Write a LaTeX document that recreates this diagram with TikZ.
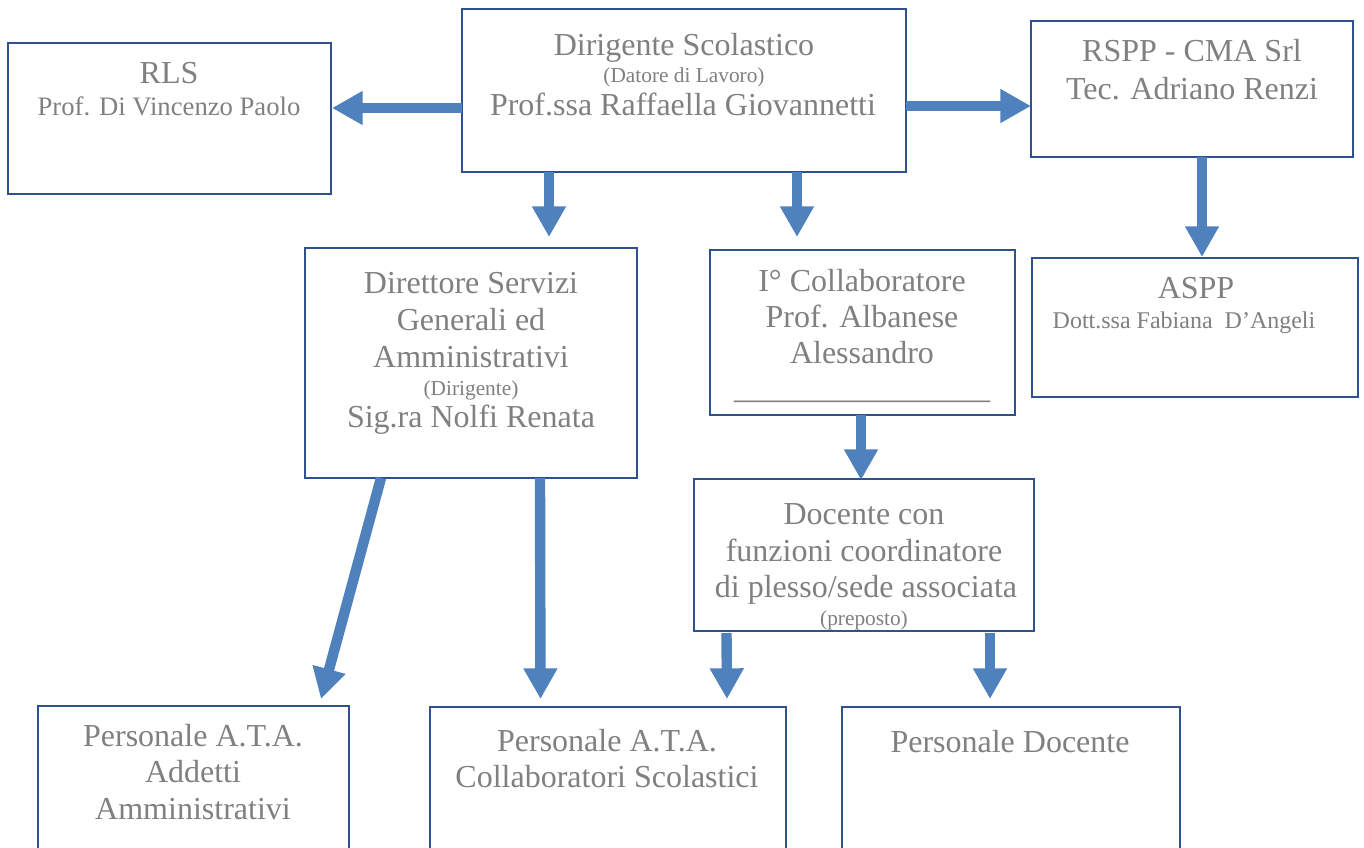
\documentclass[tikz,border=0pt]{standalone}
\usepackage{fontspec}
\setmainfont{Liberation Serif}
\usetikzlibrary{arrows.meta,calc,fit}
\definecolor{boxc}{RGB}{47,82,143}
\definecolor{arrc}{RGB}{79,129,189}
\definecolor{txtc}{RGB}{128,128,128}
\tikzset{
  box/.style={draw=boxc, line width=1.4pt, inner sep=0pt, outer sep=0pt},
  arr/.style={draw=arrc, line width=7.8pt, -{Triangle[length=23pt,width=24pt]}},
  big/.style={text=txtc, font=\fontsize{24}{28}\selectfont, anchor=base, inner sep=0pt},
  mid/.style={text=txtc, font=\fontsize{20}{24}\selectfont, anchor=base, inner sep=0pt},
  mids/.style={text=txtc, font=\fontsize{18}{22}\selectfont, anchor=base, inner sep=0pt},
  sml/.style={text=txtc, font=\fontsize{16}{19}\selectfont, anchor=base, inner sep=0pt}
}
\begin{document}
\begin{tikzpicture}[x=0.75pt,y=-0.75pt]
\useasboundingbox (0,0) rectangle (1364,847);
\clip (0,0) rectangle (1364,847);
\fill[white] (0,0) rectangle (1364,847);

% boxes
\node[box, fit={(8,43)(331,194)}] (rls) {};
\node[box, fit={(462,9)(906,172)}] (dir) {};
\node[box, fit={(1031,21)(1353,157)}] (rspp) {};
\node[box, fit={(1032,258)(1358,397)}] (aspp) {};
\node[box, fit={(305,248)(637,478)}] (dsga) {};
\node[box, fit={(710,250)(1015,415)}] (coll) {};
\node[box, fit={(694,479)(1034,631)}] (doc) {};
\node[box, fit={(38,706)(349,880)}] (ata1) {};
\node[box, fit={(430,707)(786,880)}] (ata2) {};
\node[box, fit={(842,707)(1180,880)}] (pdoc) {};

% texts
\node[big] (t-rls1) at (169,83) {RLS};
\node[mid] (t-rls2) at (169,115) {Prof. Di Vincenzo Paolo};

\node[big] (t-dir1) at (684,55) {Dirigente Scolastico};
\node[sml] (t-dir2) at (684,82) {(Datore di Lavoro)};
\node[big] (t-dir3) at (683,115) {Prof.ssa Raffaella Giovannetti};

\node[big] (t-rspp1) at (1192,61) {RSPP - CMA Srl};
\node[big] (t-rspp2) at (1192,99) {Tec. Adriano Renzi};

\node[big] (t-aspp1) at (1196,298) {ASPP};
\node[mids] (t-aspp2) at (1184,328) {Dott.ssa Fabiana\ \ D’Angeli};

\node[big] (t-dsga1) at (471,293) {Direttore Servizi};
\node[big] (t-dsga2) at (471,330) {Generali ed};
\node[big] (t-dsga3) at (471,367) {Amministrativi};
\node[sml] (t-dsga4) at (471,395) {(Dirigente)};
\node[big] (t-dsga5) at (471,427) {Sig.ra Nolfi Renata};

\node[big] (t-coll1) at (862,291) {I° Collaboratore};
\node[big] (t-coll2) at (862,327) {Prof. Albanese};
\node[big] (t-coll3) at (862,363) {Alessandro};
\node[big] (t-coll4) at (862,398) {\_\_\_\_\_\_\_\_\_\_\_\_\_\_\_\_};

\node[big] (t-doc1) at (864,524) {Docente con};
\node[big] (t-doc2) at (864,561) {funzioni coordinatore};
\node[big] (t-doc3) at (866,597) {di plesso/sede associata};
\node[sml] (t-doc4) at (864,625) {(preposto)};

\node[big] (t-ata1a) at (193,746) {Personale A.T.A.};
\node[big] (t-ata1b) at (193,782) {Addetti};
\node[big] (t-ata1c) at (193,819) {Amministrativi};

\node[big] (t-ata2a) at (607,751) {Personale A.T.A.};
\node[big] (t-ata2b) at (607,787) {Collaboratori Scolastici};

\node[big] (t-pdoc) at (1010,752) {Personale Docente};

% arrows
\draw[arr] ($(dir.west)+(0,17.5)$) -- ($(rls.east)+(1,-10.5)$);
\draw[arr] ($(dir.east)+(0,15.5)$) -- ($(rspp.west)+(0,17)$);
\draw[arr] ($(dir.south)+(-135,0)$) -- ($(dsga.north)+(78,-11)$);
\draw[arr] ($(dir.south)+(113,0)$) -- ($(coll.north)+(-65.5,-13)$);
\draw[arr] ($(rspp.south)+(10,0)$) -- ($(aspp.north)+(7,-1)$);
\draw[arr] ($(coll.south)+(-1.5,0)$) -- ($(doc.north)+(-3,1)$);
\draw[arr] ($(dsga.south)+(-90,0)$) -- ($(ata1.north)+(127.5,-7)$);
\draw[arr] ($(dsga.south)+(69,0)$) -- ($(ata2.north)+(-67.5,-8)$);
\draw[arr] ($(doc.south)+(-137.5,2)$) -- ($(ata2.north)+(119,-8)$);
\draw[arr] ($(doc.south)+(126,2)$) -- ($(pdoc.north)+(-21,-8)$);
\end{tikzpicture}
\end{document}
